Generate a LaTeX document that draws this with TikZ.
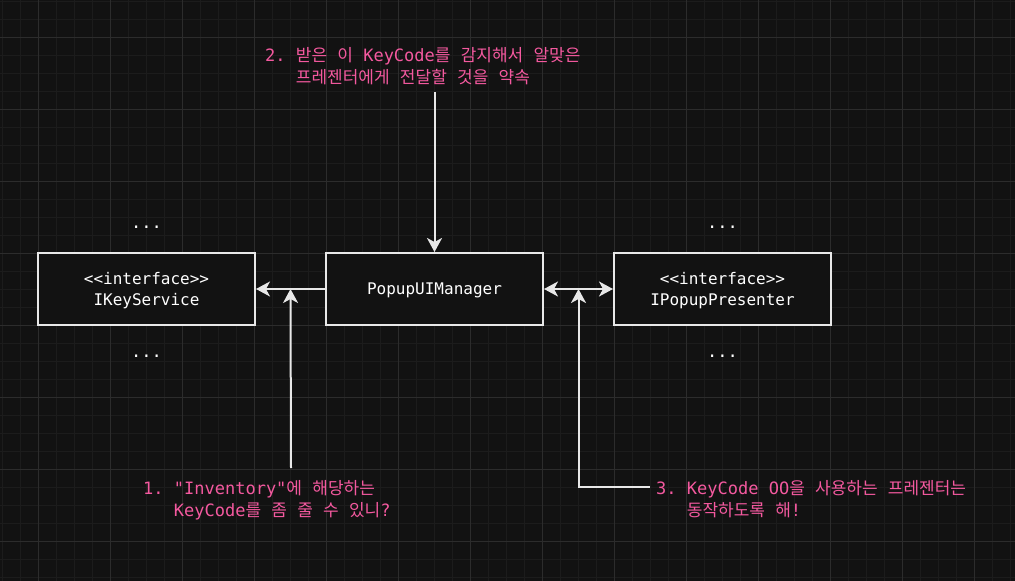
\documentclass[tikz,border=0pt]{standalone}
\usepackage{fontspec}
\setmonofont{DejaVu Sans Mono}
\newfontfamily\krfont{Noto Sans CJK KR}
\newcommand\kr[1]{{\krfont #1}}
\usepackage{tikz}
\usetikzlibrary{arrows.meta,positioning,calc}
\definecolor{pbg}{HTML}{121212}
\definecolor{pminor}{HTML}{1C1C1C}
\definecolor{pmajor}{HTML}{2C2C2C}
\definecolor{pline}{HTML}{E8E8E8}
\definecolor{ppink}{HTML}{F4599F}

\begin{document}
\begin{tikzpicture}[x=1pt,y=-1pt,
  iface/.style={draw=pline,line width=2pt,fill=pbg,text=white,
                minimum width=217pt,minimum height=72pt,align=center,
                text depth=-5pt,font=\fontsize{16}{21}\selectfont\ttfamily},
  memo/.style={text=ppink,align=left,anchor=north west,inner sep=0pt,
               font=\fontsize{17}{22}\selectfont\ttfamily},
  dotrow/.style={text=white,anchor=base,inner sep=0pt,
                 font=\fontsize{17}{20}\selectfont\ttfamily},
  arr/.style={-{Stealth[length=14pt,width=15pt,inset=4pt]},line width=2pt,color=pline},
  node distance=69pt
]
\useasboundingbox (0,0) rectangle (1015,581);
% canvas grid
\fill[pbg] (0,0) rectangle (1015,581);
\foreach \x in {2,20,...,1015} \draw[pminor,line width=1pt] (\x,0) -- (\x,581);
\foreach \y in {1,19,...,581} \draw[pminor,line width=1pt] (0,\y) -- (1015,\y);
\foreach \x in {38,110,...,1015} \draw[pmajor,line width=1pt] (\x,0) -- (\x,581);
\foreach \y in {37,109,...,581} \draw[pmajor,line width=1pt] (0,\y) -- (1015,\y);

% boxes
\node[iface] (key) at (146.5,289) {<<interface>>\\IKeyService};
\node[iface,right=of key] (mgr) {PopupUIManager};
\node[iface,right=of mgr] (pres) {<<interface>>\\IPopupPresenter};

\node[dotrow] (keyup) at ([yshift=24pt]key.north) {...};
\node[dotrow] (keydown) at ([yshift=-31pt]key.south) {...};
\node[dotrow] (presup) at ([yshift=24pt]pres.north) {...};
\node[dotrow] (presdown) at ([yshift=-31pt]pres.south) {...};

% notes
\node[memo] (lbl2) at (265,47) {2. \kr{받은} \kr{이} KeyCode\kr{를} \kr{감지해서} \kr{알맞은}\\
  \hphantom{2. }\kr{프레젠터에게} \kr{전달할} \kr{것을} \kr{약속}};
\node[memo] (lbl1) at (143,480) {1. "Inventory"\kr{에} \kr{해당하는}\\
  \hphantom{1. }KeyCode\kr{를} \kr{좀} \kr{줄} \kr{수} \kr{있니}?};
\node[memo] (lbl3) at (656,480) {3. KeyCode OO\kr{을} \kr{사용하는} \kr{프레젠터는}\\
  \hphantom{3. }\kr{동작하도록} \kr{해}!};

\coordinate (j1) at ($(key.east)!.5!(mgr.west)$);
\coordinate (j3) at ($(mgr.east)!.5!(pres.west)$);
\coordinate (c1) at (291,468);
\coordinate (c2) at (434.5,92);
\coordinate (c3) at (650,487);

\draw[arr] (c2) -- (mgr.north);
\draw[arr] (mgr.west) -- (key.east);
\draw[arr,{Stealth[length=14pt,width=15pt,inset=4pt]}-{Stealth[length=14pt,width=15pt,inset=4pt]}] (mgr.east) -- (pres.west);
\draw[arr] (c1) -- (j1);
\draw[arr] (c3) -| (j3);
\end{tikzpicture}
\end{document}
